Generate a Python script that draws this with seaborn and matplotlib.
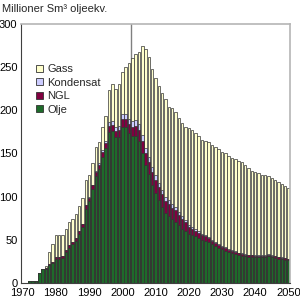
import pandas as pd
import matplotlib
matplotlib.use("Agg")
import matplotlib.pyplot as plt
import seaborn as sns
from matplotlib.patches import Patch

# Data (million Sm3 o.e.), 1970-2050
years = list(range(1970, 2051))
olje = [
    0.0, 0.4, 1.9, 1.9, 2.0, 11.0, 16.2, 16.6, 20.6, 22.5,          # 1970-79
    27.5, 27.5, 28.5, 35.6, 40.5, 44.8, 48.8, 57.0, 64.7, 86.0,     # 1980-89
    94.5, 108.5, 124.0, 131.8, 146.3, 156.8, 175.4, 175.9, 168.7, 168.7,  # 1990-99
    181.2, 180.9, 173.6, 170, 170, 164, 151, 137, 126, 113,         # 2000-09
    104, 96, 88, 81, 77, 74, 71, 67, 63, 60,                        # 2010-19
    57, 56, 54, 52, 50, 49, 47, 45, 43, 41,                         # 2020-29
    39, 37.5, 36, 35, 34, 32.5, 31.5, 31, 30.5, 30,                 # 2030-39
    29.5, 29.5, 29.5, 30, 31, 30, 29, 28, 27.5, 27,                 # 2040-49
    26,                                                             # 2050
]
ngl = [
    0, 0, 0, 0, 0, 0, 0, 0.5, 0.8, 1.5,
    2.5, 2.6, 2.6, 2.8, 3.0, 3.1, 3.3, 3.6, 3.8, 4.2,
    4.3, 4.5, 4.9, 5.2, 5.4, 5.6, 6.5, 7.0, 7.5, 8.0,
    8.5, 9.5, 10.0, 11, 12, 13, 13, 13, 14, 15,
    15, 15, 15, 14, 14, 13, 13, 12, 11, 10,
    8, 7, 6.5, 6, 5.5, 5, 4.5, 4, 3.5, 3.2,
    3.0, 2.8, 2.6, 2.4, 2.2, 2.0, 1.9, 1.9, 1.8, 1.8,
    1.8, 1.7, 1.7, 1.7, 1.7, 1.6, 1.6, 1.6, 1.5, 1.5,
    1.5,
]
kondensat = [
    0, 0, 0, 0, 0, 0, 0, 0, 0, 0,
    0, 0, 0, 0, 0, 0, 0, 0, 0, 0,
    0.5, 0.8, 1.0, 1.5, 2.0, 2.5, 4.0, 4.5, 4.5, 5.0,
    5.5, 5.5, 6.0, 6.5, 7, 7, 7, 6.5, 6, 6,
    5.5, 5, 5, 4.5, 4.5, 4, 4, 3.5, 3, 3,
    2.5, 2.2, 2.0, 1.8, 1.6, 1.5, 1.3, 1.2, 1.1, 1.0,
    0.9, 0.9, 0.8, 0.8, 0.8, 0.7, 0.7, 0.7, 0.6, 0.6,
    0.6, 0.6, 0.6, 0.5, 0.5, 0.5, 0.5, 0.5, 0.5, 0.5,
    0.5,
]
gass = [
    0, 0, 0, 0, 0, 0, 0, 2.8, 14.0, 21.0,
    26.0, 25.0, 24.0, 24.0, 26.5, 26.5, 27.5, 28.5, 29.5, 29.5,
    25.5, 25.5, 27.0, 25.0, 27.0, 28.0, 37.4, 43.0, 44.2, 48.5,
    49.7, 53.9, 65.5, 73.5, 76, 84, 104, 114.5, 116, 114,
    113.5, 112, 112, 113.5, 108.5, 112, 110, 108.5, 108, 108,
    111.5, 111.8, 111.5, 110.2, 108.9, 109.5, 110.2, 109.8, 109.4, 109.8,
    109.1, 108.8, 107.6, 106.8, 106, 105.8, 105.9, 103.4, 100.1, 97.6,
    97.1, 95.2, 93.2, 92.8, 90.8, 88.9, 87.9, 86.9, 85.5, 83,
    82,
]

df = pd.DataFrame({"Aar": years, "Olje": olje, "NGL": ngl,
                   "Kondensat": kondensat, "Gass": gass})
# stacked tops
df["top_olje"] = df["Olje"]
df["top_ngl"] = df["top_olje"] + df["NGL"]
df["top_kond"] = df["top_ngl"] + df["Kondensat"]
df["top_gass"] = df["top_kond"] + df["Gass"]

colors = {"Gass": "#FFFFCC", "Kondensat": "#CCCCFF",
          "NGL": "#800040", "Olje": "#1E6B2A"}

sns.set_theme(style="white")
plt.rcParams["font.family"] = ["Liberation Sans", "DejaVu Sans"]

fig, ax = plt.subplots(figsize=(3, 3), dpi=100)
fig.subplots_adjust(left=0.07, right=0.967, bottom=0.057, top=0.92)

# history / forecast divider
ax.axvline(32.6, color="#808080", lw=1, zorder=0)

for name, col in [("Gass", "top_gass"), ("Kondensat", "top_kond"),
                  ("NGL", "top_ngl"), ("Olje", "top_olje")]:
    sns.barplot(data=df, x="Aar", y=col, color=colors[name], saturation=1,
                width=0.75, edgecolor="#333333", linewidth=0.5,
                errorbar=None, ax=ax, zorder=2)

ax.set_xlim(-0.5, len(years) - 0.5)
ax.set_ylim(0, 300)
ax.set_yticks(range(0, 301, 50))
tick_pos = [i for i, y in enumerate(years) if y % 10 == 0]
ax.set_xticks(tick_pos)
ax.set_xticklabels([str(years[i]) for i in tick_pos])
ax.tick_params(axis="both", length=0, labelsize=8, colors="#000000")
ax.tick_params(axis="y", pad=2.5)
ax.tick_params(axis="x", pad=4)
ax.set_xlabel("")
ax.set_ylabel("")

for s in ["top", "right"]:
    ax.spines[s].set_color("#B5B5B5")
    ax.spines[s].set_linewidth(1.2)
for s in ["left", "bottom"]:
    ax.spines[s].set_color("#404040")
    ax.spines[s].set_linewidth(0.8)

fig.text(0.007, 0.985, "Millioner Sm³ oljeekv.", va="top", ha="left", fontsize=8)

handles = [Patch(facecolor=colors[n], edgecolor="#333333", linewidth=0.6, label=n)
           for n in ["Gass", "Kondensat", "NGL", "Olje"]]
fig.legend(handles=handles, loc="upper left", bbox_to_anchor=(0.095, 0.812),
           frameon=False, fontsize=8, handlelength=0.6, handleheight=0.6,
           handletextpad=0.4, labelspacing=0.32, borderpad=0.2)

fig.savefig("out.png", dpi=100)
